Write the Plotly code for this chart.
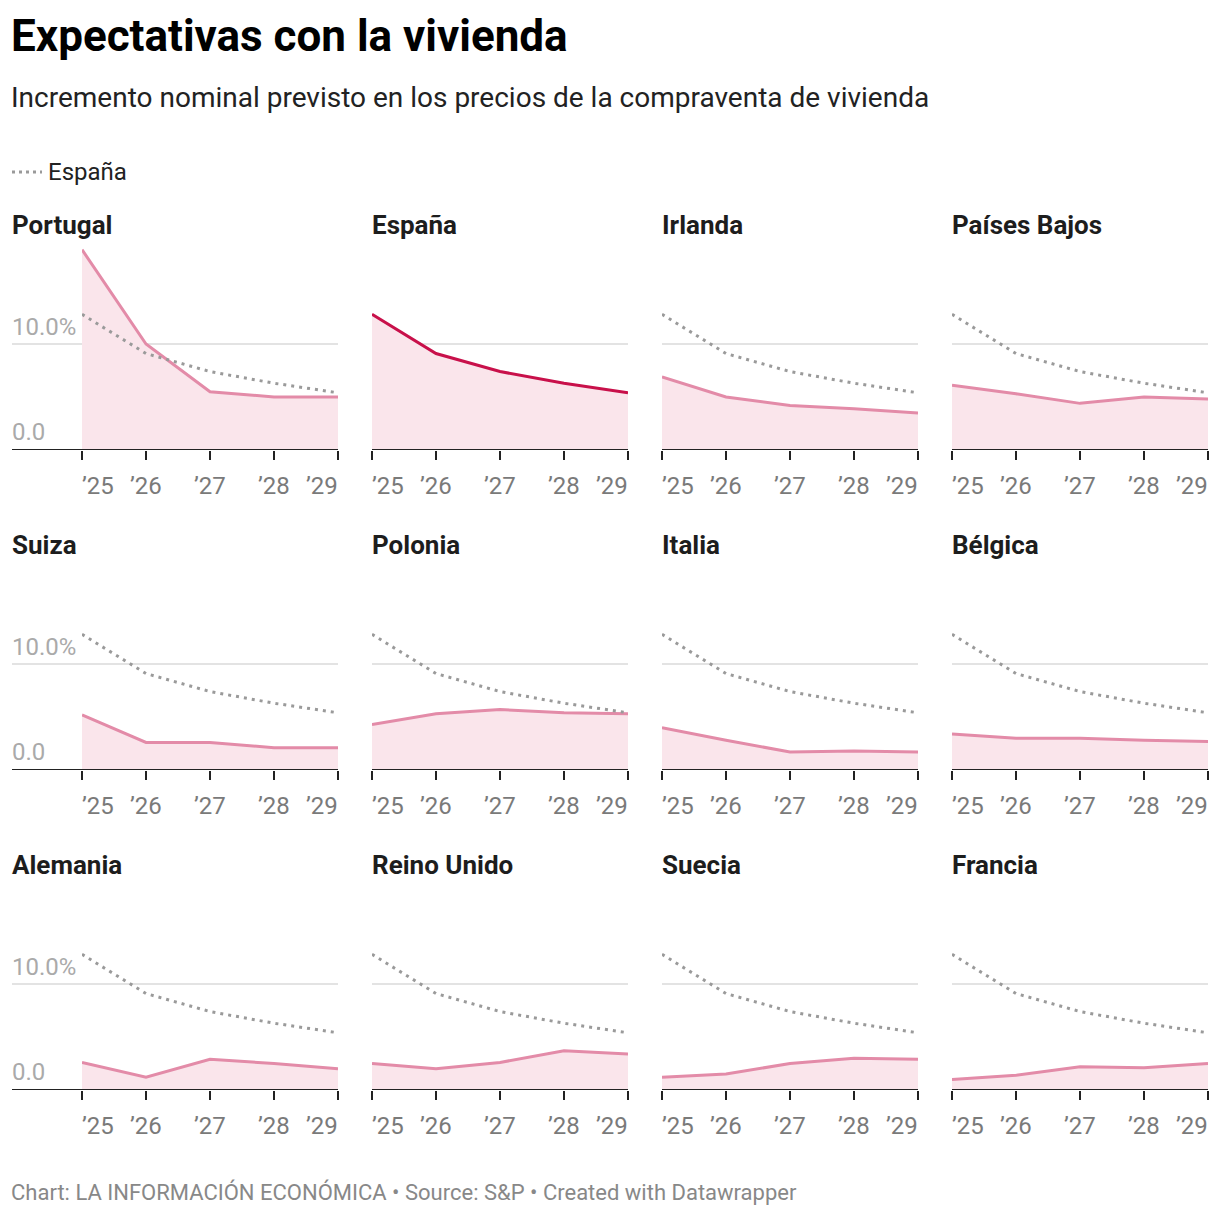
import plotly.graph_objects as go

years = [2025, 2026, 2027, 2028, 2029]
year_labels = ["’25", "’26", "’27", "’28", "’29"]

countries = ["Portugal", "España", "Irlanda", "Países Bajos",
             "Suiza", "Polonia", "Italia", "Bélgica",
             "Alemania", "Reino Unido", "Suecia", "Francia"]

portugal = [18.9, 10.0, 5.5, 5.0, 5.0]
espana = [12.8, 9.1, 7.4, 6.3, 5.4]
irlanda = [6.9, 5.0, 4.2, 3.9, 3.5]
paises_bajos = [6.1, 5.3, 4.4, 5.0, 4.8]
suiza = [5.2, 2.6, 2.6, 2.1, 2.1]
polonia = [4.3, 5.3, 5.7, 5.4, 5.3]
italia = [4.0, 2.8, 1.7, 1.8, 1.7]
belgica = [3.4, 3.0, 3.0, 2.8, 2.7]
alemania = [2.6, 1.2, 2.9, 2.5, 2.0]
reino_unido = [2.5, 2.0, 2.6, 3.7, 3.4]
suecia = [1.2, 1.5, 2.5, 3.0, 2.9]
francia = [1.0, 1.4, 2.2, 2.1, 2.5]

series = [portugal, espana, irlanda, paises_bajos, suiza, polonia,
          italia, belgica, alemania, reino_unido, suecia, francia]

W, H = 1220, 1216
FONT = "Roboto"
PINK = "#e38ba8"
FILL = "#fae5eb"
CRIMSON = "#c8104a"
GRAY_DOT = "#9a9a9a"

col_left = [82, 372, 662, 952]
panel_w = 256
row_base = [450, 770, 1090]
px_per_unit = 10.6
ymax = 19.0

def px(x):
    return x / W

def py(y):
    return 1 - y / H

fig = go.Figure()
shapes = []
annotations = []

for i, (name, vals) in enumerate(zip(countries, series)):
    r, c = divmod(i, 4)
    idx = i + 1
    xa = "xaxis" if idx == 1 else f"xaxis{idx}"
    ya = "yaxis" if idx == 1 else f"yaxis{idx}"
    xr = "x" if idx == 1 else f"x{idx}"
    yr = "y" if idx == 1 else f"y{idx}"
    left = col_left[c]
    base = row_base[r]
    top = base - ymax * px_per_unit
    fig.update_layout(**{
        xa: dict(domain=[px(left), px(left + panel_w)], range=[2025, 2029],
                 anchor=yr, showgrid=False, zeroline=False, showline=False,
                 tickvals=years, ticks="outside", ticklen=9, tickwidth=2,
                 tickcolor="#222", showticklabels=False, fixedrange=True),
        ya: dict(domain=[py(base), py(top)], range=[0, ymax], anchor=xr,
                 showgrid=False, zeroline=False, showline=False,
                 showticklabels=False, fixedrange=True),
    })
    line_left = 12 if c == 0 else left
    # grid line at 10
    shapes.append(dict(type="line", xref="paper", yref=yr, x0=px(line_left),
                       x1=px(left + panel_w), y0=10, y1=10,
                       line=dict(color="#e3e3e3", width=2), layer="below"))
    # baseline
    shapes.append(dict(type="line", xref="paper", yref=yr, x0=px(line_left),
                       x1=px(left + panel_w), y0=0, y1=0,
                       line=dict(color="#222", width=2), layer="above"))
    is_spain = name == "España"
    fig.add_trace(go.Scatter(
        x=years, y=vals, xaxis=xr, yaxis=yr, mode="lines",
        line=dict(color=CRIMSON if is_spain else PINK, width=3),
        fill="tozeroy", fillcolor=FILL, showlegend=False, hoverinfo="skip"))
    if not is_spain:
        fig.add_trace(go.Scatter(
            x=years, y=espana, xaxis=xr, yaxis=yr, mode="lines",
            line=dict(color=GRAY_DOT, width=3, dash="3px,5px"),
            showlegend=False, hoverinfo="skip"))
    # panel title
    annotations.append(dict(text=f"<b>{name}</b>", xref="paper", yref="paper",
                            x=px(line_left - 2), y=py(225 + 320 * r), xanchor="left",
                            yanchor="middle", showarrow=False,
                            font=dict(family=FONT, size=26, color="#1d1d1d")))
    # x tick labels
    for j, (yv, lab) in enumerate(zip(years, year_labels)):
        anchor = "left" if j == 0 else ("right" if j == len(years) - 1 else "center")
        xs = -2 if j == 0 else (2 if j == len(years) - 1 else 0)
        annotations.append(dict(text=lab, xref=xr, yref="paper", x=yv,
                                y=py(base + 36), xanchor=anchor, yanchor="middle",
                                xshift=xs, showarrow=False,
                                font=dict(family=FONT, size=24, color="#7a7a7a")))
    if c == 0:
        annotations.append(dict(text="10.0%", xref="paper", yref=yr, x=px(10),
                                y=10, xanchor="left", yanchor="middle", yshift=17,
                                showarrow=False,
                                font=dict(family=FONT, size=24, color="#aaaaaa")))
        annotations.append(dict(text="0.0", xref="paper", yref=yr, x=px(10),
                                y=0, xanchor="left", yanchor="middle", yshift=18,
                                showarrow=False,
                                font=dict(family=FONT, size=24, color="#aaaaaa")))

# title, subtitle, legend, footer
annotations.append(dict(text="<b>Expectativas con la vivienda</b>", xref="paper",
                        yref="paper", x=px(9), y=py(36), xanchor="left",
                        yanchor="middle", showarrow=False,
                        font=dict(family=FONT, size=44, color="#000")))
annotations.append(dict(text="Incremento nominal previsto en los precios de la compraventa de vivienda",
                        xref="paper", yref="paper", x=px(9), y=py(97),
                        xanchor="left", yanchor="middle", showarrow=False,
                        font=dict(family=FONT, size=28, color="#222")))
shapes.append(dict(type="line", xref="paper", yref="paper", x0=px(12), x1=px(42),
                   y0=py(172), y1=py(172),
                   line=dict(color=GRAY_DOT, width=3, dash="3px,4px")))
annotations.append(dict(text="España", xref="paper", yref="paper", x=px(46),
                        y=py(172), xanchor="left", yanchor="middle",
                        showarrow=False,
                        font=dict(family=FONT, size=24, color="#222")))
annotations.append(dict(text="Chart: LA INFORMACIÓN ECONÓMICA • Source: S&P • Created with Datawrapper",
                        xref="paper", yref="paper", x=px(9), y=py(1192),
                        xanchor="left", yanchor="middle", showarrow=False,
                        font=dict(family=FONT, size=22, color="#888")))

fig.update_layout(width=W, height=H, margin=dict(l=0, r=0, t=0, b=0),
                  paper_bgcolor="white", plot_bgcolor="rgba(0,0,0,0)",
                  shapes=shapes, annotations=annotations, showlegend=False)

fig.write_html("out.html")
